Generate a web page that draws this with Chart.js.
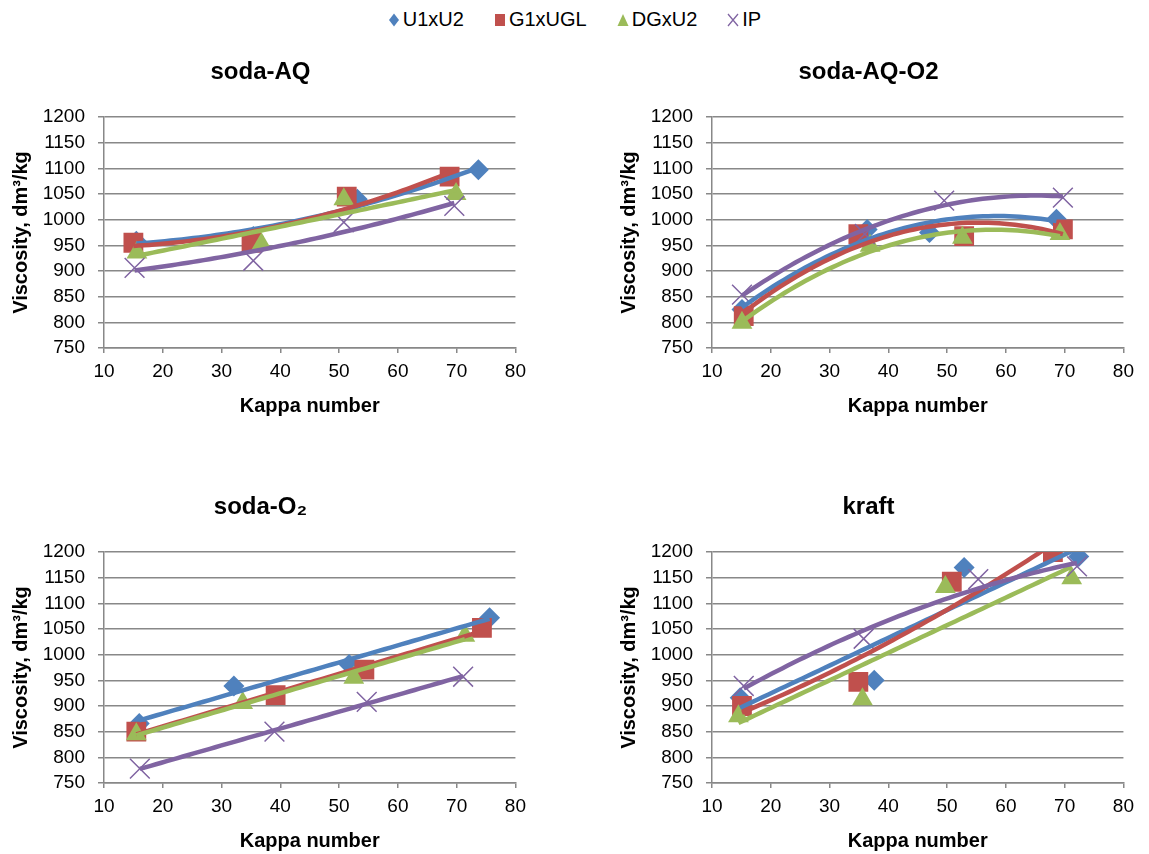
<!DOCTYPE html>
<html>
<head>
<meta charset="utf-8">
<script src="https://cdn.jsdelivr.net/npm/chart.js@4.4.1/dist/chart.umd.min.js"></script>
<style>
  body { margin: 0; background: #fff; width: 1149px; height: 854px; position: relative; overflow: hidden;
         font-family: "Liberation Sans", Arial, sans-serif; }
  canvas.panel { position: absolute; }
  #legend { position: absolute; top: 8px; left: 0; width: 1149px; display: flex; justify-content: center;
            align-items: center; font-size: 20px; color: #000; }
  #legend .item { display: flex; align-items: center; margin: 0 15px; }
  #legend svg { margin-right: 3px; }
</style>
</head>
<body>
<div id="legend"></div>
<canvas id="c1" class="panel" width="533" height="377" style="left:0;top:41px"></canvas>
<canvas id="c2" class="panel" width="533" height="377" style="left:608px;top:41px"></canvas>
<canvas id="c3" class="panel" width="533" height="377" style="left:0;top:476px"></canvas>
<canvas id="c4" class="panel" width="533" height="377" style="left:608px;top:476px"></canvas>
<script>
// series shared by all four panels
const seriesNames = ['U1xU2', 'G1xUGL', 'DGxU2', 'IP'];
const seriesColors = ['#4f81bd', '#c0504d', '#9bbb59', '#8064a2'];
const panelTitles = ['soda-AQ', 'soda-AQ-O2', 'soda-O\u2082', 'kraft'];

// kappa number (x) and viscosity (y), one row per series: U1xU2, G1xUGL, DGxU2, IP
const sodaAQKappa = [[15.5, 35.4, 53.1, 73.7], [15, 35.1, 51.3, 68.8], [15.6, 36.8, 50.8, 69.9], [15.2, 35.4, 50.8, 69.6]];
const sodaAQVisc  = [[958, 967, 1040, 1097], [955, 955, 1045, 1084], [936, 952, 1040, 1050], [906, 920, 995, 1027]];

const sodaAQO2Kappa = [[15.1, 36.4, 47.0, 68.6], [15.4, 34.9, 52.9, 69.7], [15.1, 36.9, 52.6, 69.2], [15.1, 36, 49.5, 69.7]];
const sodaAQO2Visc  = [[825, 981, 975, 1001], [812, 972, 968, 981], [799, 949, 965, 972], [854, 972, 1037, 1043]];

const sodaO2Kappa = [[16, 32.1, 51.7, 75.6], [15.5, 39.2, 54.3, 74.3], [15.5, 33.6, 52.5, 71.4], [16.1, 39, 54.7, 71.1]];
const sodaO2Visc  = [[866, 939, 981, 1072], [850, 921, 971, 1052], [845, 906, 955, 1037], [778, 850, 908, 957]];

const kraftKappa = [[14.8, 37.6, 52.9, 72.4], [15.1, 34.9, 50.8, 68], [14.5, 35.6, 49.7, 71.2], [15.4, 35.8, 55.3, 72.1]];
const kraftVisc  = [[916, 950, 1170, 1191], [900, 947, 1142, 1200], [880, 913, 1132, 1149], [939, 1031, 1147, 1172]];

// trendline order (1 = linear, 2 = polynomial) per panel and series
const trendDegree = [[2, 2, 2, 2], [2, 2, 2, 2], [1, 1, 1, 1], [1, 2, 1, 2]];

const xTicks = { min: 10, max: 80, step: 10 };
const yTicks = { min: 750, max: 1200, step: 50 };

Chart.defaults.font.family = '"Liberation Sans", Arial, sans-serif';
Chart.defaults.color = '#000';

const markerStyle = [
  { pointStyle: 'rectRot', radius: 10.5, border: 0 },
  { pointStyle: 'rect', radius: 14, border: 0 },
  { pointStyle: 'triangle', radius: 12, border: 0 },
  { pointStyle: 'crossRot', radius: 14, border: 1.5 }
];

// least squares polynomial fit, like an excel trendline
function polyFit(xs, ys, deg) {
  const n = deg + 1;
  const A = [];
  for (let r = 0; r < n; r++) {
    A.push([]);
    for (let c = 0; c <= n; c++) A[r].push(0);
  }
  for (let i = 0; i < xs.length; i++) {
    for (let r = 0; r < n; r++) {
      for (let c = 0; c < n; c++) A[r][c] += Math.pow(xs[i], r + c);
      A[r][n] += ys[i] * Math.pow(xs[i], r);
    }
  }
  for (let p = 0; p < n; p++) {
    let best = p;
    for (let r = p + 1; r < n; r++) if (Math.abs(A[r][p]) > Math.abs(A[best][p])) best = r;
    [A[p], A[best]] = [A[best], A[p]];
    for (let r = 0; r < n; r++) {
      if (r === p) continue;
      const f = A[r][p] / A[p][p];
      for (let c = p; c <= n; c++) A[r][c] -= f * A[p][c];
    }
  }
  return A.map((row, i) => row[n] / row[i]);
}

function trendPoints(xs, ys, deg) {
  const coef = polyFit(xs, ys, deg);
  const lo = Math.min(...xs), hi = Math.max(...xs);
  const pts = [];
  for (let i = 0; i <= 60; i++) {
    const x = lo + (hi - lo) * i / 60;
    let y = 0;
    coef.forEach((c, k) => { y += c * Math.pow(x, k); });
    pts.push({ x: x, y: y });
  }
  return pts;
}

function makePanel(canvasId, title, kappa, visc, degrees) {
  const datasets = [];
  for (let s = 0; s < seriesNames.length; s++) {
    const m = markerStyle[s];
    datasets.push({
      label: seriesNames[s],
      data: kappa[s].map((x, i) => ({ x: x, y: visc[s][i] })),
      pointStyle: m.pointStyle,
      pointRadius: m.radius,
      pointHoverRadius: m.radius,
      backgroundColor: seriesColors[s],
      borderColor: seriesColors[s],
      pointBorderWidth: m.border,
      showLine: false,
      order: 4 - s
    });
    datasets.push({
      label: seriesNames[s] + ' trend',
      data: trendPoints(kappa[s], visc[s], degrees[s]),
      showLine: true,
      pointRadius: 0,
      borderColor: seriesColors[s],
      borderWidth: 4.5,
      tension: 0,
      order: -1 - s
    });
  }
  return new Chart(document.getElementById(canvasId), {
    type: 'scatter',
    data: { datasets: datasets },
    options: {
      responsive: false,
      animation: false,
      layout: { padding: { left: 0, right: 12, top: 0, bottom: 0 } },
      plugins: {
        legend: { display: false },
        tooltip: { enabled: false },
        title: {
          display: true,
          text: title,
          font: { size: 24, weight: 'bold' },
          color: '#000',
          padding: { top: 16.6, bottom: 30.6 }
        }
      },
      scales: {
        x: {
          type: 'linear',
          min: xTicks.min, max: xTicks.max,
          ticks: { stepSize: xTicks.step, autoSkip: false, font: { size: 19 }, padding: 7, color: '#000',
                   callback: (v) => String(v) },
          grid: { drawOnChartArea: false, tickLength: 5, color: '#888', lineWidth: 1.5 },
          border: { color: '#888', width: 1.5 },
          title: { display: true, text: 'Kappa number', font: { size: 20, weight: 'bold' }, padding: { top: 0, bottom: 0 } },
          afterFit: (scale) => { scale.height = 70; }
        },
        y: {
          min: yTicks.min, max: yTicks.max,
          ticks: { stepSize: yTicks.step, autoSkip: false, font: { size: 19 }, padding: 13, color: '#000',
                   callback: (v) => String(v) },
          grid: { tickLength: 6, color: '#888', lineWidth: 1.5 },
          border: { color: '#888', width: 1.5 },
          title: { display: true, text: 'Viscosity, dm\u00b3/kg', font: { size: 20, weight: 'bold' }, padding: { top: 9.5, bottom: 0 } },
          afterFit: (scale) => { scale.width = 104; }
        }
      }
    }
  });
}

makePanel('c1', panelTitles[0], sodaAQKappa, sodaAQVisc, trendDegree[0]);
makePanel('c2', panelTitles[1], sodaAQO2Kappa, sodaAQO2Visc, trendDegree[1]);
makePanel('c3', panelTitles[2], sodaO2Kappa, sodaO2Visc, trendDegree[2]);
makePanel('c4', panelTitles[3], kraftKappa, kraftVisc, trendDegree[3]);

// legend on top, shared by the four charts
const legendIcons = [
  '<svg width="12" height="16"><polygon points="6,1.5 11,8 6,14.5 1,8" fill="' + seriesColors[0] + '"/></svg>',
  '<svg width="12" height="16"><rect x="1" y="2" width="10" height="12" fill="' + seriesColors[1] + '"/></svg>',
  '<svg width="12" height="16"><polygon points="6,2 11.5,14 0.5,14" fill="' + seriesColors[2] + '"/></svg>',
  '<svg width="12" height="16"><path d="M1,2 L11,14 M11,2 L1,14" stroke="' + seriesColors[3] + '" stroke-width="1.3" fill="none"/></svg>'
];
const legend = document.getElementById('legend');
seriesNames.forEach((name, i) => {
  const item = document.createElement('div');
  item.className = 'item';
  item.innerHTML = legendIcons[i] + '<span>' + name + '</span>';
  legend.appendChild(item);
});
</script>
</body>
</html>
